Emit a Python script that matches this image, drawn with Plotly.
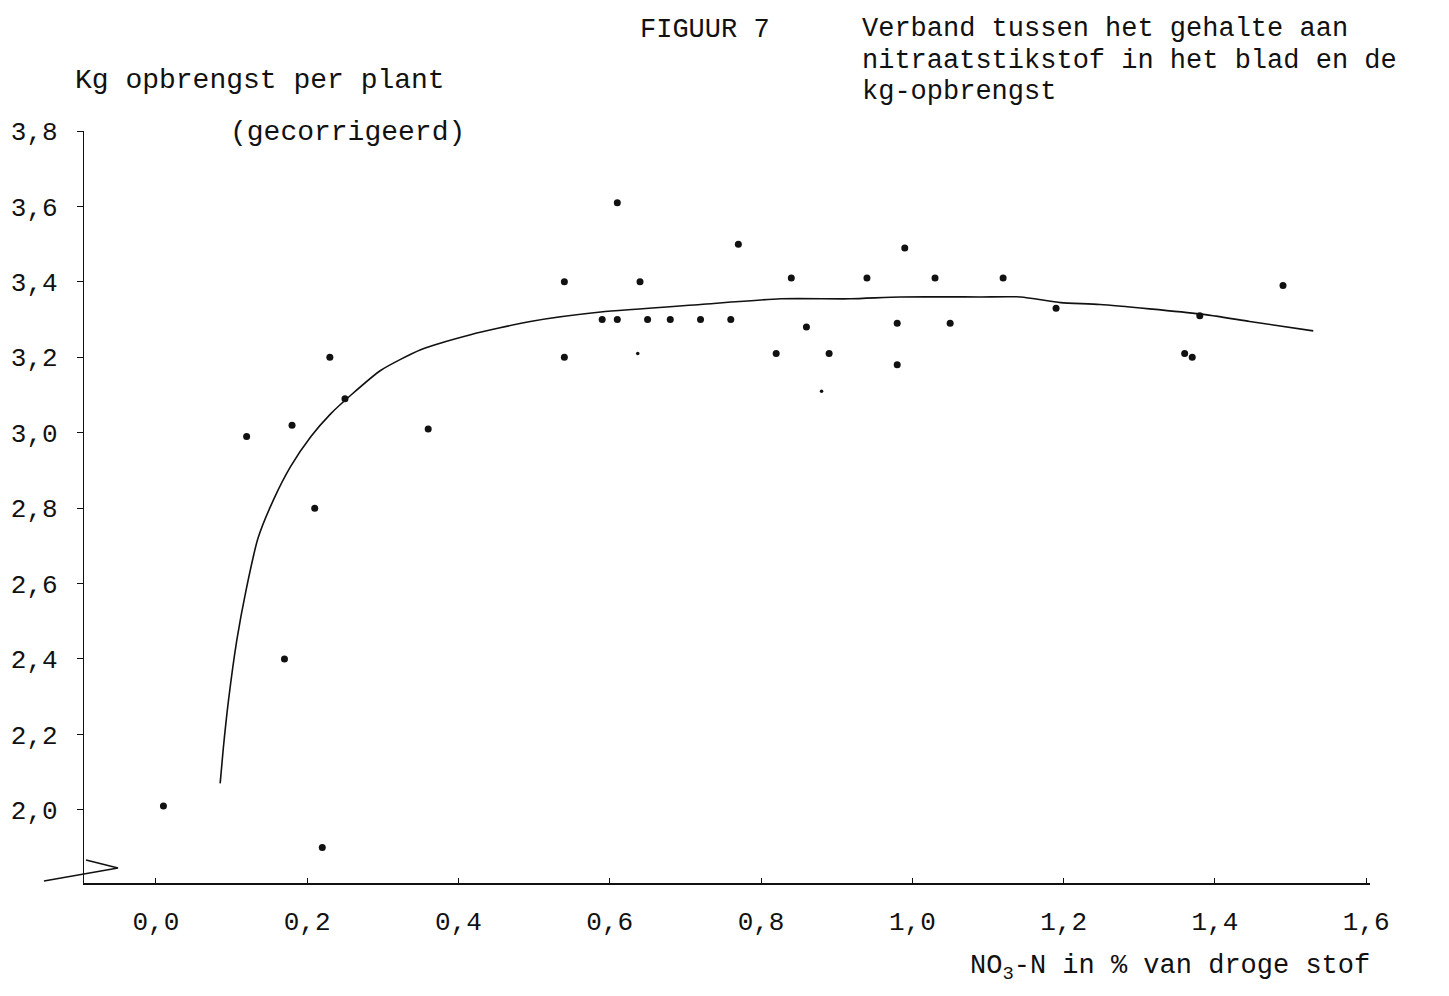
import plotly.graph_objects as go

# Data
nitrate = [0.01, 0.12, 0.18, 0.17, 0.21, 0.23, 0.22, 0.25, 0.36, 0.54, 0.54, 0.59,
           0.61, 0.61, 0.64, 0.65, 0.68, 0.72, 0.76, 0.77, 0.82, 0.84, 0.86, 0.89,
           0.94, 0.98, 0.98, 0.99, 1.03, 1.05, 1.12, 1.19, 1.36, 1.37, 1.38, 1.49]
yield_kg = [2.01, 2.99, 3.02, 2.40, 2.80, 3.20, 1.90, 3.09, 3.01, 3.20, 3.40, 3.30,
            3.61, 3.30, 3.40, 3.30, 3.30, 3.30, 3.30, 3.50, 3.21, 3.41, 3.28, 3.21,
            3.41, 3.29, 3.18, 3.49, 3.41, 3.29, 3.41, 3.33, 3.21, 3.20, 3.31, 3.39]

faint_nitrate = [0.88, 0.637]
faint_yield = [3.11, 3.21]

curve_x = [0.085, 0.089, 0.096, 0.107, 0.119, 0.135, 0.155, 0.178, 0.205, 0.231,
           0.258, 0.297, 0.35, 0.416, 0.495, 0.588, 0.72, 0.826, 0.918, 0.984,
           1.09, 1.143, 1.196, 1.248, 1.38, 1.446, 1.53]
curve_y = [2.07, 2.16, 2.29, 2.45, 2.58, 2.72, 2.82, 2.91, 2.99, 3.05,
           3.10, 3.165, 3.22, 3.26, 3.295, 3.32, 3.34, 3.355, 3.355, 3.36,
           3.36, 3.36, 3.345, 3.34, 3.315, 3.295, 3.27]

x_ticks = [0.0, 0.2, 0.4, 0.6, 0.8, 1.0, 1.2, 1.4, 1.6]
x_tick_labels = ["0,0", "0,2", "0,4", "0,6", "0,8", "1,0", "1,2", "1,4", "1,6"]
y_ticks = [2.0, 2.2, 2.4, 2.6, 2.8, 3.0, 3.2, 3.4, 3.6, 3.8]
y_tick_labels = ["2,0", "2,2", "2,4", "2,6", "2,8", "3,0", "3,2", "3,4", "3,6", "3,8"]

FONT = "Liberation Mono"
INK = "#111111"

fig = go.Figure()
fig.add_trace(go.Scatter(x=curve_x, y=curve_y, mode="lines",
                         line=dict(color=INK, width=1.6, shape="spline", smoothing=0.6),
                         hoverinfo="skip", showlegend=False))
fig.add_trace(go.Scatter(x=nitrate, y=yield_kg, mode="markers",
                         marker=dict(color=INK, size=7), showlegend=False))
fig.add_trace(go.Scatter(x=faint_nitrate, y=faint_yield, mode="markers",
                         marker=dict(color=INK, size=3.5), showlegend=False))

fig.update_xaxes(range=[-0.095, 1.605], tickvals=x_ticks, ticktext=x_tick_labels,
                 showline=True, linecolor=INK, linewidth=1.8, showgrid=False,
                 zeroline=False, ticks="inside", ticklen=5, tickcolor=INK,
                 tickfont=dict(family=FONT, size=26, color=INK),
                 ticklabelstandoff=14)
fig.update_yaxes(range=[1.806, 3.8], tickvals=y_ticks, ticktext=y_tick_labels,
                 showline=True, linecolor=INK, linewidth=1.4, showgrid=False,
                 zeroline=False, ticks="outside", ticklen=6, tickcolor=INK,
                 tickfont=dict(family=FONT, size=26, color=INK),
                 ticklabelstandoff=14)

W, H = 1449, 996
L, R, T, B = 84, 79, 131, 113
pw, ph = W - L - R, H - T - B


def px(xp):
    return (xp - L) / pw


def py(yp):
    return (H - B - yp) / ph


def note(text, x, y, size=27, xanchor="left"):
    fig.add_annotation(text=text, x=x, y=y, xref="paper", yref="paper",
                       xanchor=xanchor, yanchor="middle", showarrow=False,
                       font=dict(family=FONT, size=size, color=INK), align="left")


note("Kg opbrengst per plant", px(73), py(80), size=28)
note("(gecorrigeerd)", px(228), py(133), size=28)
note("FIGUUR 7", px(638), py(30), size=27)
note("Verband tussen het gehalte aan", px(860), py(29), size=27)
note("nitraatstikstof in het blad en de", px(860), py(61), size=27)
note("kg-opbrengst", px(860), py(92), size=27)
note("NO<sub>3</sub>-N in % van droge stof", px(968), py(968), size=27)

# axis break zigzag (decoration)
fig.add_shape(type="path", xref="paper", yref="paper",
              path=f"M {px(86)} {py(860)} L {px(118)} {py(868)} L {px(44)} {py(881)}",
              line=dict(color=INK, width=1.6))

fig.update_layout(width=W, height=H, margin=dict(l=L, r=R, t=T, b=B),
                  plot_bgcolor="white", paper_bgcolor="white")

fig.write_html("out.html")
